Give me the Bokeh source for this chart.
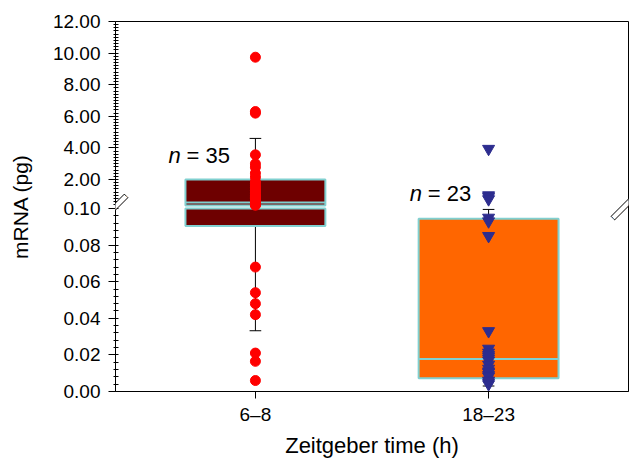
import numpy as np
from bokeh.plotting import figure
from bokeh.models import (Range1d, FixedTicker, Label)
from bokeh.embed import file_html
from bokeh.resources import INLINE

# ---------------- data ----------------
groups = ["6–8", "18–23"]
group_pos = [1, 2]
counts = [35, 23]

zt_6_8 = [9.74, 6.3, 6.2, 3.56, 2.99, 2.78, 2.4, 2.15,
          1.85, 1.75, 1.6, 1.5, 1.4, 1.3, 1.2, 1.1, 1.0, 0.95, 0.9, 0.85,
          0.8, 0.7, 0.65, 0.6, 0.5, 0.45, 0.4, 0.37,
          0.068, 0.054, 0.048, 0.042, 0.021, 0.0165, 0.006]
zt_18_23 = [3.94, 1.0, 0.9, 0.75, 0.095, 0.093, 0.085, 0.033,
            0.0234, 0.0213, 0.02, 0.0191, 0.018, 0.0169, 0.0147, 0.0125,
            0.011, 0.0104, 0.009, 0.0082, 0.006, 0.005, 0.004]

q1 = [0.0905, 0.0072]
median = [0.55, 0.0178]
q3 = [2.0, 0.0944]
whisker_lo = [0.0332, 0.0030]
whisker_hi = [4.6, 0.0995]

lower_ticks = [0.0, 0.02, 0.04, 0.06, 0.08, 0.10]
lower_tick_labels = ["0.00", "0.02", "0.04", "0.06", "0.08", "0.10"]
upper_ticks = [2, 4, 6, 8, 10, 12]
upper_tick_labels = ["2.00", "4.00", "6.00", "8.00", "10.00", "12.00"]

# ---------------- styling ----------------
box_fill = ["#6E0000", "#FF6600"]
box_line = "#80D0D0"
point_color = ["#FF0000", "#2D2D8F"]
point_marker = ["circle", "inverted_triangle"]
point_size = [10, 12]
FONT = "Liberation Sans"

# broken axis: two scales sharing one frame
LOWER_MAX = 0.1     # top of lower segment
UPPER_MIN = 0.354   # bottom of upper segment
L0, L1 = 0.0, 0.2022
U0, U1 = -11.42, 12.0

p = figure(width=636, height=462, output_backend="svg", toolbar_location=None,
           x_range=Range1d(0.4, 2.6), y_range=Range1d(L0, L1),
           min_border_left=115, min_border_right=8, min_border_top=21,
           min_border_bottom=71)
p.extra_y_ranges = {"upper": Range1d(U0, U1)}
p.grid.visible = False
p.outline_line_color = "black"
p.outline_line_width = 1
p.background_fill_color = "white"
p.border_fill_color = "white"


def to_lower_units(v):
    return L0 + (v - U0) * (L1 - L0) / (U1 - U0)


ticks = list(lower_ticks) + [to_lower_units(v) for v in upper_ticks]
labels = list(lower_tick_labels) + list(upper_tick_labels)
minor = list(np.arange(0.004, 0.1001, 0.004)) + \
    [to_lower_units(v) for v in np.arange(0.4, 12.0, 0.2)]
yax = p.yaxis[0]
yax.ticker = FixedTicker(ticks=ticks, minor_ticks=minor)
yax.major_label_overrides = {t: l for t, l in zip(ticks, labels)}
yax.axis_label = "mRNA (pg)"
yax.axis_label_text_font = FONT
yax.axis_label_text_font_size = "21px"
yax.axis_label_text_font_style = "normal"
yax.axis_label_text_color = "black"
yax.axis_label_standoff = 18
yax.major_label_text_font = FONT
yax.major_label_text_font_size = "19px"
yax.major_label_text_color = "black"
yax.major_label_standoff = 8
yax.major_tick_out = 7
yax.major_tick_in = 0
yax.minor_tick_out = 2
yax.minor_tick_in = 3
yax.axis_line_color = "black"
yax.major_tick_line_color = "black"
yax.minor_tick_line_color = "black"

xax = p.xaxis[0]
xax.ticker = FixedTicker(ticks=group_pos)
xax.major_label_overrides = {g: n for g, n in zip(group_pos, groups)}
xax.axis_label = "Zeitgeber time (h)"
xax.axis_label_text_font = FONT
xax.axis_label_text_font_size = "22px"
xax.axis_label_text_font_style = "normal"
xax.axis_label_text_color = "black"
xax.axis_label_standoff = 5
xax.major_label_text_font = FONT
xax.major_label_text_font_size = "19px"
xax.major_label_text_color = "black"
xax.major_label_standoff = 5
xax.major_tick_out = 7
xax.major_tick_in = 0
xax.minor_tick_out = 0
xax.minor_tick_in = 0
xax.axis_line_color = "black"
xax.major_tick_line_color = "black"

BOX_W = 0.6
CAP_W = 0.05


def split(lo, hi):
    """split an interval into (lower segment part, upper segment part)"""
    low = (lo, min(hi, LOWER_MAX)) if lo < LOWER_MAX else None
    up = (max(lo, UPPER_MIN), hi) if hi > UPPER_MIN else None
    return low, up


# whiskers and caps
for i, x in enumerate(group_pos):
    for lo, hi in [(whisker_lo[i], q1[i]), (q3[i], whisker_hi[i])]:
        low, up = split(lo, hi)
        if low:
            p.segment(x0=x, x1=x, y0=low[0], y1=low[1], line_color="black", line_width=1)
        if up:
            p.segment(x0=x, x1=x, y0=up[0], y1=up[1], line_color="black",
                      line_width=1, y_range_name="upper")
    for v in [whisker_lo[i], whisker_hi[i]]:
        rn = "default" if v <= LOWER_MAX else "upper"
        p.segment(x0=x - CAP_W / 2, x1=x + CAP_W / 2, y0=v, y1=v,
                  line_color="black", line_width=1, y_range_name=rn)

# boxes and medians
for i, x in enumerate(group_pos):
    low, up = split(q1[i], q3[i])
    if low:
        p.quad(left=x - BOX_W / 2, right=x + BOX_W / 2, bottom=low[0], top=low[1],
               fill_color=box_fill[i], line_color=box_line, line_width=2)
    if up:
        p.quad(left=x - BOX_W / 2, right=x + BOX_W / 2, bottom=up[0], top=up[1],
               fill_color=box_fill[i], line_color=box_line, line_width=2,
               y_range_name="upper")
    rn = "default" if median[i] <= LOWER_MAX else "upper"
    p.segment(x0=x - BOX_W / 2, x1=x + BOX_W / 2, y0=median[i], y1=median[i],
              line_color=box_line, line_width=2, y_range_name=rn)

# points
for i, (x, vals) in enumerate(zip(group_pos, [zt_6_8, zt_18_23])):
    v = np.array(vals)
    low = v[v <= LOWER_MAX]
    up = v[v >= UPPER_MIN]
    p.scatter(x=[x] * len(low), y=low, marker=point_marker[i], size=point_size[i],
              fill_color=point_color[i], line_color=point_color[i])
    p.scatter(x=[x] * len(up), y=up, marker=point_marker[i], size=point_size[i],
              fill_color=point_color[i], line_color=point_color[i],
              y_range_name="upper")

# n labels
n_label_x = [0.627, 1.662]
n_label_y = [3.52, 1.11]
for i in range(2):
    p.add_layout(Label(x=n_label_x[i], y=n_label_y[i], y_range_name="upper",
                       text="n", text_font=FONT, text_font_style="italic",
                       text_font_size="22px", text_baseline="middle",
                       text_color="black"))
    p.add_layout(Label(x=n_label_x[i], y=n_label_y[i], y_range_name="upper",
                       x_offset=18, text=f"= {counts[i]}", text_font=FONT,
                       text_font_size="22px", text_baseline="middle",
                       text_color="black"))

# axis break marks (canvas units): thin rotated outlined boxes = two parallel strokes
for (bx, by) in [(115, 206), (623, 207)]:
    p.add_layout(Label(x=bx, y=by, x_units="canvas", y_units="canvas",
                       text="mmmmmmmmm", text_font=FONT, text_font_size="4px",
                       text_color="white", text_align="center",
                       text_baseline="middle", angle=45, angle_units="deg",
                       padding=0, border_line_color="black", border_line_width=1,
                       background_fill_color="white"))

open("out.html", "w").write(file_html(p, INLINE))
